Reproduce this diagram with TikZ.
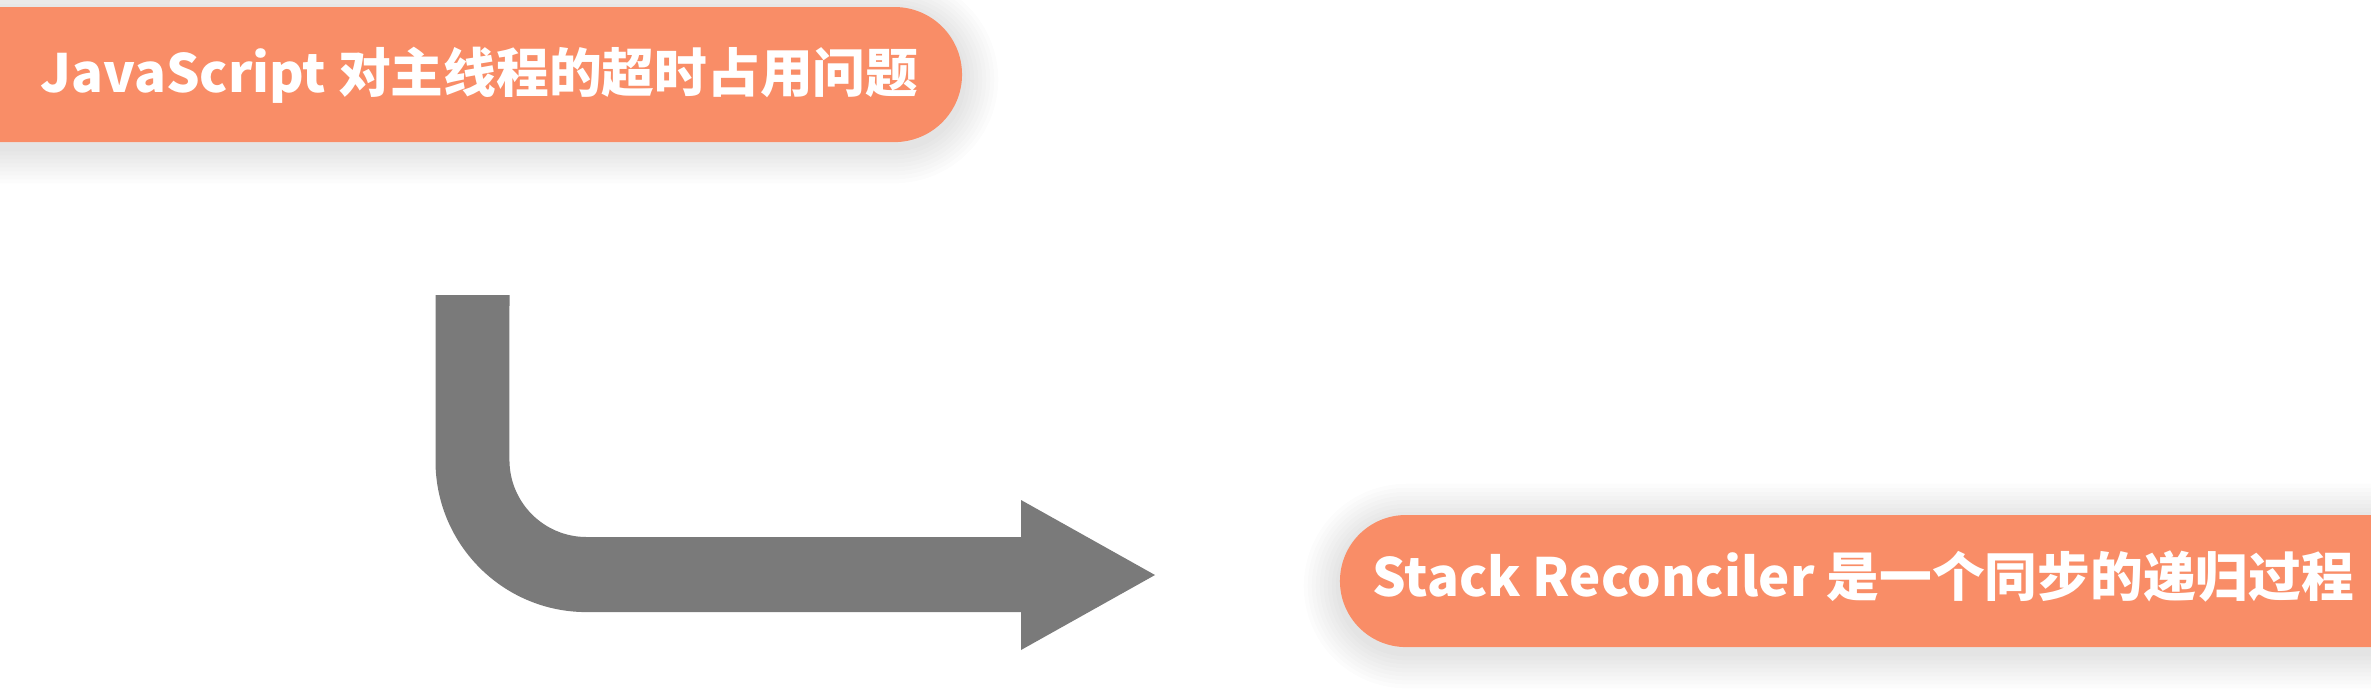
\documentclass[tikz,border=0pt]{standalone}
\usepackage{fontspec}
\newfontfamily\cjk{Noto Sans CJK SC}
\definecolor{salmon}{RGB}{249,141,103}
\definecolor{arrowgray}{RGB}{122,122,122}
\tikzset{
  pill/.style={fill=salmon},
  glow/.style={draw=black!70, opacity=0.015, line join=round},
  label/.style={text=white, font=\cjk\bfseries\fontsize{15pt}{18pt}\selectfont, inner sep=0pt, anchor=base},
  bigarrow/.style={fill=arrowgray},
  toppath/.style={insert path={(-80,-7) -- (894.5,-7) arc[start angle=90,end angle=-90,radius=0.675cm] -- (-80,-142) -- cycle}},
  botpath/.style={insert path={(2450,-515) -- (1406,-515) arc[start angle=90,end angle=270,radius=0.66cm] -- (2450,-647) -- cycle}}
}
\begin{document}
\begin{tikzpicture}[x=0.01cm,y=0.01cm]
\useasboundingbox (0,0) rectangle (2371,-690);
\fill[white] (0,0) rectangle (2371,-690);
% soft shadows
\foreach \w in {8,16,...,72}{
  \draw[glow, line width=\w*0.2845pt, yshift=-0.05cm, toppath];
  \draw[glow, line width=\w*0.2845pt, yshift=-0.05cm, botpath];
}
% pills
\path[pill, toppath];
\path[pill, botpath];
\node[label] (t1) at (479.5,-92) {JavaScript 对主线程的超时占用问题};
\node[label] (t2) at (1863.5,-596) {Stack Reconciler 是一个同步的递归过程};
% bent arrow
\coordinate (a0) at (435.5,-295);
\fill[bigarrow] (a0) -- (435.5,-461) arc[start angle=180,end angle=270,radius=1.51cm]
  -- (1021,-612) -- (1021,-650) -- (1155,-575) -- (1021,-500) -- (1021,-537)
  -- (586.5,-537) arc[start angle=270,end angle=180,radius=0.77cm]
  -- (509.5,-295) -- cycle;
\end{tikzpicture}
\end{document}
